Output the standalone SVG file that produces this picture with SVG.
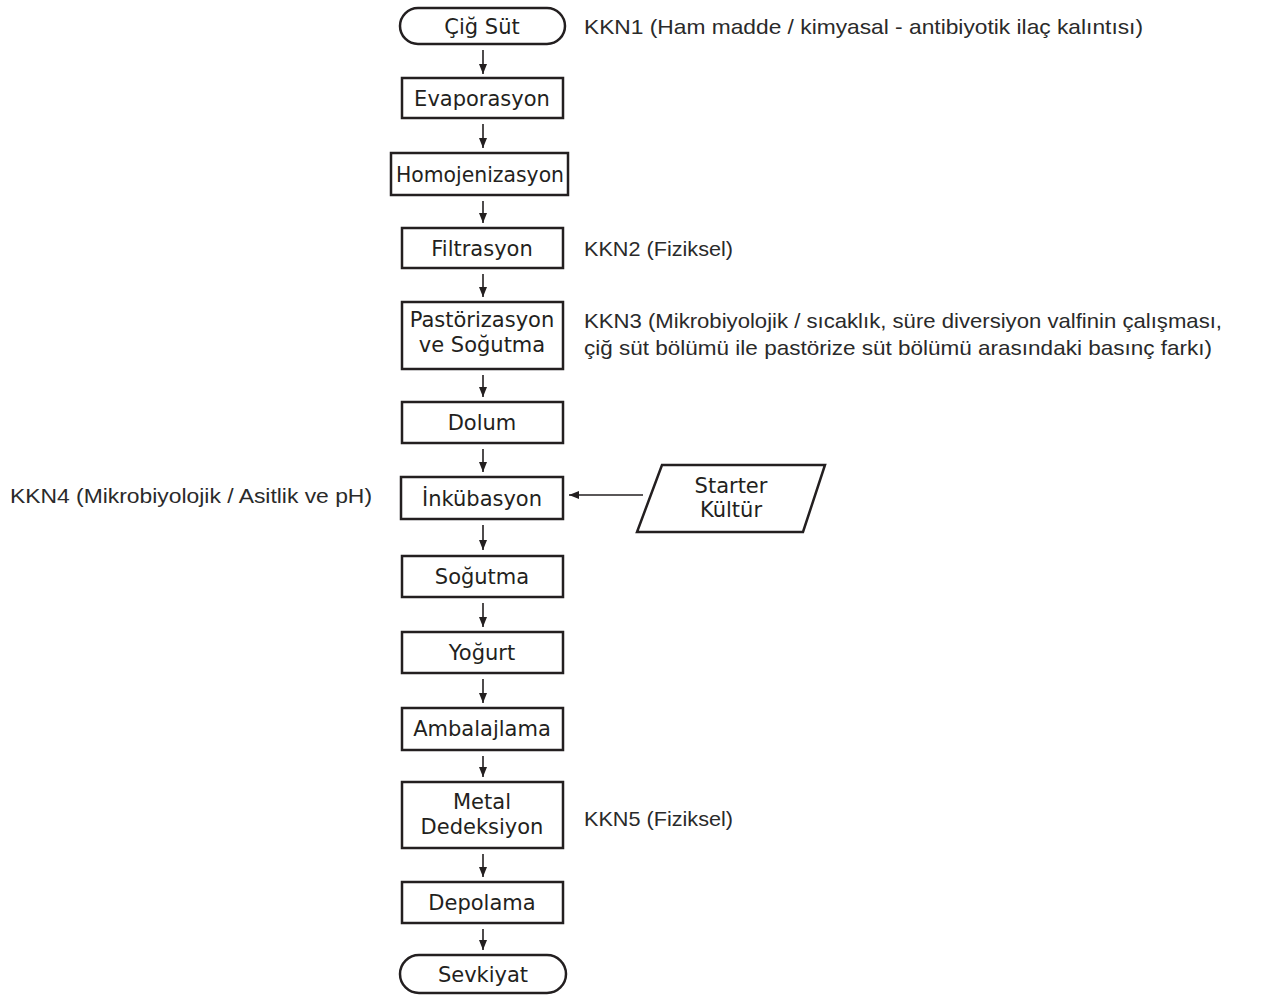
<svg xmlns="http://www.w3.org/2000/svg" width="1261" height="997" viewBox="0 0 1261 997">
<style>
.box{fill:#fff;stroke:#231f20;stroke-width:2.5}
.lbl{font-family:"DejaVu Sans","Liberation Sans",sans-serif;font-size:21px;fill:#231f20;text-anchor:middle}
.note{font-family:"Liberation Sans","DejaVu Sans",sans-serif;font-size:21px;fill:#2a2a2a}
.conn{stroke:#231f20;stroke-width:1.6;fill:none;marker-end:url(#ah)}
</style>
<defs>
<marker id="ah" viewBox="0 0 10 8" refX="10" refY="4" markerWidth="10" markerHeight="8" markerUnits="userSpaceOnUse" orient="auto">
<path d="M0,0 L10,4 L0,8 Z" fill="#231f20"/>
</marker>
</defs>
<rect width="1261" height="997" fill="#fff"/>

<g id="connectors">
<line class="conn" x1="483" y1="50" x2="483" y2="74"/>
<line class="conn" x1="483" y1="124" x2="483" y2="148"/>
<line class="conn" x1="483" y1="201" x2="483" y2="223"/>
<line class="conn" x1="483" y1="274" x2="483" y2="297"/>
<line class="conn" x1="483" y1="375" x2="483" y2="397"/>
<line class="conn" x1="483" y1="449" x2="483" y2="472"/>
<line class="conn" x1="483" y1="525" x2="483" y2="550"/>
<line class="conn" x1="483" y1="603" x2="483" y2="627"/>
<line class="conn" x1="483" y1="679" x2="483" y2="703"/>
<line class="conn" x1="483" y1="756" x2="483" y2="777"/>
<line class="conn" x1="483" y1="854" x2="483" y2="877"/>
<line class="conn" x1="483" y1="929" x2="483" y2="950"/>
<line class="conn" x1="643" y1="495" x2="569" y2="495"/>
</g>

<g id="n-cig-sut">
<rect class="box" x="400" y="8" width="165" height="36" rx="18" ry="18"/>
<text class="lbl" x="482" y="34">Çiğ Süt</text>
</g>
<g id="n-evaporasyon">
<rect class="box" x="402" y="78" width="161" height="40"/>
<text class="lbl" x="482" y="105.5">Evaporasyon</text>
</g>
<g id="n-homojenizasyon">
<rect class="box" x="391" y="153" width="177" height="42"/>
<text class="lbl" x="480" y="181.5" textLength="168" lengthAdjust="spacingAndGlyphs">Homojenizasyon</text>
</g>
<g id="n-filtrasyon">
<rect class="box" x="402" y="228" width="161" height="40"/>
<text class="lbl" x="482" y="255.5">Filtrasyon</text>
</g>
<g id="n-pastorizasyon">
<rect class="box" x="402" y="302" width="161" height="67"/>
<text class="lbl" x="482" y="327">Pastörizasyon</text>
<text class="lbl" x="482" y="352">ve Soğutma</text>
</g>
<g id="n-dolum">
<rect class="box" x="402" y="402" width="161" height="41"/>
<text class="lbl" x="482" y="430">Dolum</text>
</g>
<g id="n-inkubasyon">
<rect class="box" x="401" y="477" width="162" height="42"/>
<text class="lbl" x="482" y="505.5">İnkübasyon</text>
</g>
<g id="n-starter">
<polygon class="box" points="662,465 825,465 803,532 637,532"/>
<text class="lbl" x="731" y="493">Starter</text>
<text class="lbl" x="731" y="517">Kültür</text>
</g>
<g id="n-sogutma">
<rect class="box" x="402" y="556" width="161" height="41"/>
<text class="lbl" x="482" y="584">Soğutma</text>
</g>
<g id="n-yogurt">
<rect class="box" x="402" y="632" width="161" height="41"/>
<text class="lbl" x="482" y="660">Yoğurt</text>
</g>
<g id="n-ambalajlama">
<rect class="box" x="402" y="708" width="161" height="42"/>
<text class="lbl" x="482" y="736">Ambalajlama</text>
</g>
<g id="n-metal">
<rect class="box" x="402" y="782" width="161" height="66"/>
<text class="lbl" x="482" y="809">Metal</text>
<text class="lbl" x="482" y="834">Dedeksiyon</text>
</g>
<g id="n-depolama">
<rect class="box" x="402" y="882" width="161" height="41"/>
<text class="lbl" x="482" y="910">Depolama</text>
</g>
<g id="n-sevkiyat">
<rect class="box" x="400" y="955" width="166" height="38" rx="19" ry="19"/>
<text class="lbl" x="483" y="982">Sevkiyat</text>
</g>

<g id="annotations">
<text class="note" x="584" y="34" textLength="559" lengthAdjust="spacingAndGlyphs">KKN1 (Ham madde / kimyasal - antibiyotik ilaç kalıntısı)</text>
<text class="note" x="584" y="256" textLength="149" lengthAdjust="spacingAndGlyphs">KKN2 (Fiziksel)</text>
<text class="note" x="584" y="328" textLength="638" lengthAdjust="spacingAndGlyphs">KKN3 (Mikrobiyolojik / sıcaklık, süre diversiyon valfinin çalışması,</text>
<text class="note" x="584" y="355" textLength="628" lengthAdjust="spacingAndGlyphs">çiğ süt bölümü ile pastörize süt bölümü arasındaki basınç farkı)</text>
<text class="note" x="10" y="503" textLength="362" lengthAdjust="spacingAndGlyphs">KKN4 (Mikrobiyolojik / Asitlik ve pH)</text>
<text class="note" x="584" y="826" textLength="149" lengthAdjust="spacingAndGlyphs">KKN5 (Fiziksel)</text>
</g>
</svg>
